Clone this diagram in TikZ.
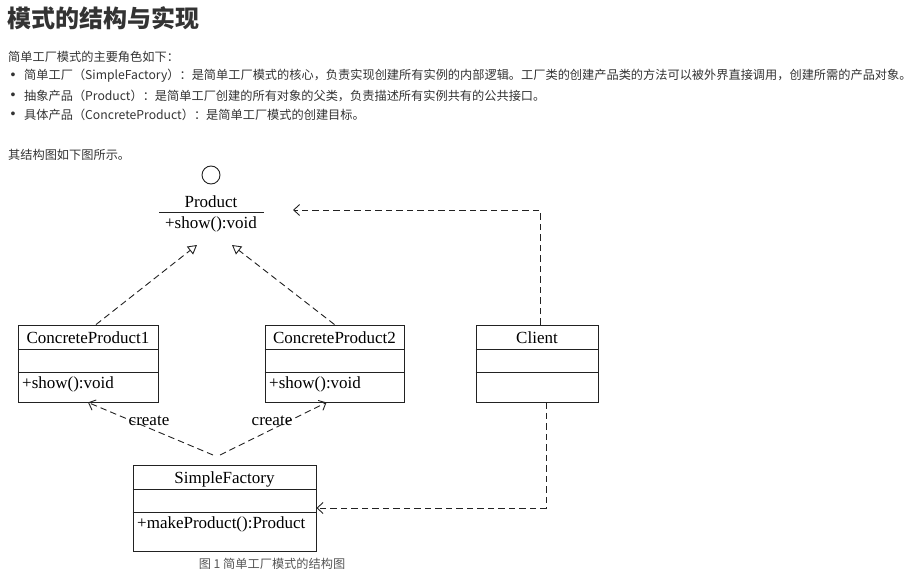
\documentclass[tikz,border=0pt]{standalone}
\usepackage{fontspec}
\usepackage{xcolor}
\usepackage{tikz}
\usetikzlibrary{positioning,arrows.meta}
\setmainfont{Liberation Serif}
\newfontfamily\cjk{Noto Sans CJK SC}
\newfontfamily\dotfont{Liberation Sans}
\definecolor{bodytext}{HTML}{333333}
\definecolor{captext}{HTML}{555555}
\definecolor{umlline}{HTML}{222222}

\begin{document}
\begin{tikzpicture}[x=1pt,y=-1pt]
	\tikzset{
		para/.style={anchor=west,inner sep=0,text=bodytext,font=\cjk\fontsize{12.2}{14}\selectfont},
		bullet/.style={para,anchor=center,font=\dotfont\fontsize{14}{14}\selectfont},
		umltext/.style={inner sep=0,font=\fontsize{17}{20}\selectfont},
		classbox/.style={draw=umlline,line width=0.9pt,inner sep=0},
		dep/.style={draw=umlline,line width=0.9pt,dash pattern=on 6.5pt off 4pt,-{Straight Barb[length=6pt,width=11pt]}},
		realize/.style={dep,-{Triangle[open,length=9pt,width=10pt]}},
	}
	\useasboundingbox (0,0) rectangle (917,575);

	\node[para,font=\cjk\bfseries\fontsize{24}{26}\selectfont] (title) at (7,18) {模式的结构与实现};
	\node[para] (intro) at (8,57) {简单工厂模式的主要角色如下：};
	\foreach \y in {76,96,115}
		\node[bullet] (b\y) at (13,\y) {•};
	\node[para] (role1) at (24,76) {简单工厂（SimpleFactory）：是简单工厂模式的核心，负责实现创建所有实例的内部逻辑。工厂类的创建产品类的方法可以被外界直接调用，创建所需的产品对象。};
	\node[para] (role2) at (24,96) {抽象产品（Product）：是简单工厂创建的所有对象的父类，负责描述所有实例共有的公共接口。};
	\node[para] (role3) at (24,115) {具体产品（ConcreteProduct）：是简单工厂模式的创建目标。};
	\node[para] (lead) at (8,155) {其结构图如下图所示。};

	\node[circle,draw=umlline,line width=0.9pt,minimum size=18,inner sep=0] (iface) at (211,175) {};
	\node[umltext] (product) at (211,202) {Product};
	\draw[umlline,line width=0.9pt] (159,212) -- (264,212);
	\node[umltext] (productop) at (211,224) {+show():void};

	\node[classbox,minimum width=140,minimum height=77] (cp1) at (88,363.5) {};
	\node[classbox,minimum width=139,minimum height=77] (cp2) at (334.5,363.5) {};
	\node[classbox,minimum width=122,minimum height=77] (client) at (537,363.5) {};
	\node[classbox,minimum width=183,minimum height=86] (sf) at (224.5,508) {};
	\foreach \b in {cp1,cp2,client}
		\draw[umlline,line width=0.9pt] (\b.west |- 0,349) -- (\b.east |- 0,349) (\b.west |- 0,372) -- (\b.east |- 0,372);
	\draw[umlline,line width=0.9pt] (sf.west |- 0,489) -- (sf.east |- 0,489) (sf.west |- 0,512) -- (sf.east |- 0,512);

	\node[umltext] (cp1name) at (88,338) {ConcreteProduct1};
	\node[umltext,anchor=west] (cp1op) at (22,384) {+show():void};
	\node[umltext] (cp2name) at (334.5,338) {ConcreteProduct2};
	\node[umltext,anchor=west] (cp2op) at (269,384) {+show():void};
	\node[umltext] (clientname) at (537,338) {Client};
	\node[umltext] (sfname) at (224.5,479) {SimpleFactory};
	\node[umltext,anchor=west] (sfop) at (137,524) {+makeProduct():Product};

	\coordinate (tip1) at (197,245);
	\coordinate (tip2) at (232,245);
	\coordinate (tip3) at (293,210);
	\coordinate (sfleft) at (213,455);
	\coordinate (sfright) at (220,455);
	\draw[realize] ([xshift=8]cp1.north) -- (tip1);
	\draw[realize] (cp2.north) -- (tip2);
	\draw[dep] ([xshift=3]client.north) |- (tip3);
	\draw[dep] ([xshift=9]client.south) |- (sf.east);
	\draw[dep] (sfleft) -- (cp1.south);
	\draw[dep] (sfright) -- ([xshift=-8]cp2.south);
	\node[umltext] (create1) at (149,421) {create};
	\node[umltext] (create2) at (272,421) {create};

	\node[para,anchor=center,text=captext] (caption) at (272,564) {图 1 简单工厂模式的结构图};
\end{tikzpicture}
\end{document}
